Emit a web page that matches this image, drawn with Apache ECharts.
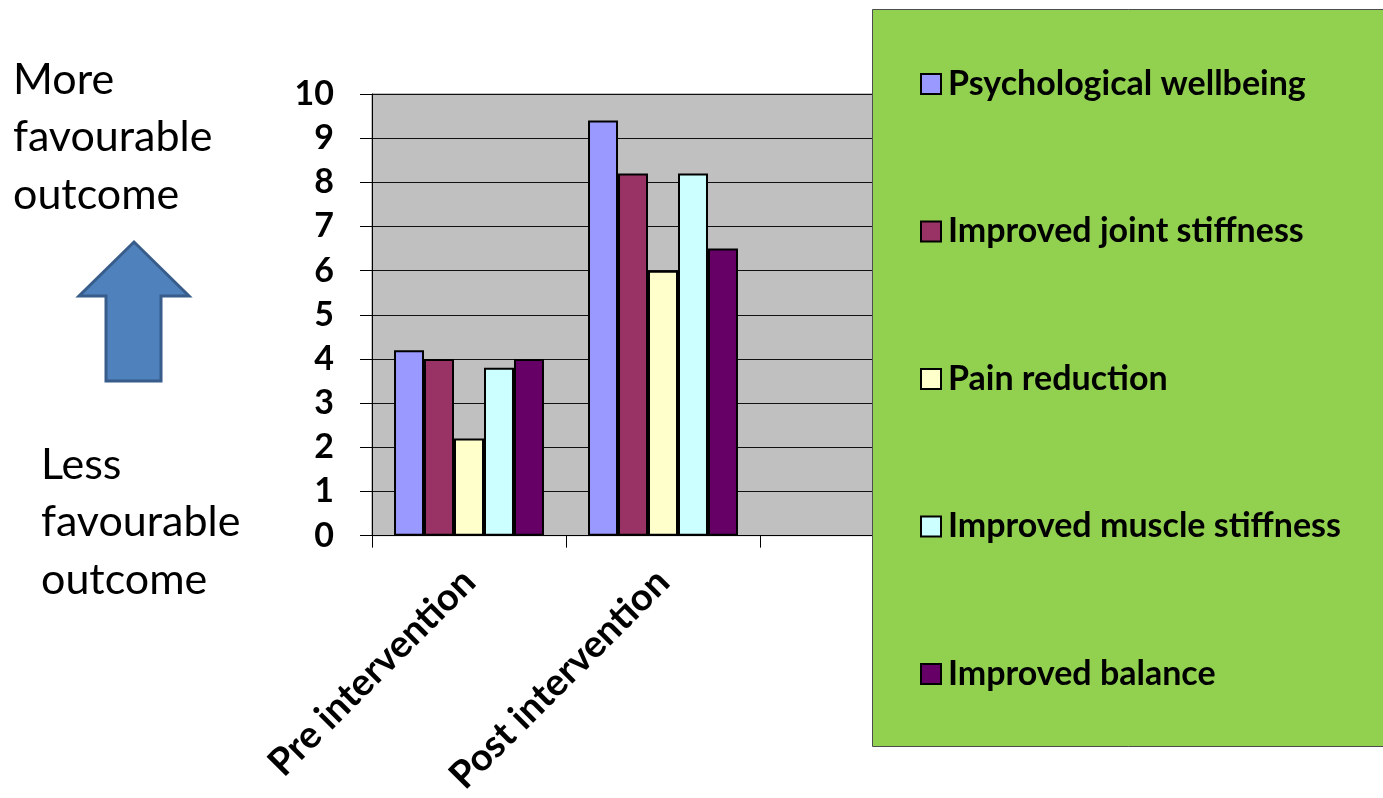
<!DOCTYPE html>
<html>
<head>
<meta charset="utf-8">
<script src="https://cdn.jsdelivr.net/npm/echarts@6/dist/echarts.min.js"></script>
<style>
  html, body { margin: 0; padding: 0; background: #ffffff; }
  #chart { width: 1383px; height: 798px; }
</style>
</head>
<body>
<div id="chart"></div>
<script>
// Outcome scores before and after the intervention
const categories = ['Pre intervention', 'Post intervention', ''];
const seriesNames = [
  'Psychological wellbeing',
  'Improved joint stiffness',
  'Pain reduction',
  'Improved muscle stiffness',
  'Improved balance'
];
const psychologicalWellbeing = [4.2, 9.4, null];
const jointStiffness = [4.0, 8.2, null];
const painReduction = [2.2, 6.0, null];
const muscleStiffness = [3.8, 8.2, null];
const balance = [4.0, 6.5, null];
const yTicks = [0, 1, 2, 3, 4, 5, 6, 7, 8, 9, 10];

const seriesValues = [psychologicalWellbeing, jointStiffness, painReduction, muscleStiffness, balance];
const seriesColors = ['#9999FF', '#993366', '#FFFFCC', '#CCFFFF', '#660066'];

const FONT = 'Lato, "Open Sans", sans-serif';

const chart = echarts.init(document.getElementById('chart'), null, { renderer: 'canvas' });

const option = {
  animation: false,
  backgroundColor: '#ffffff',
  grid: {
    left: 372, top: 94, right: 429, bottom: 261,
    show: true,
    backgroundColor: '#C0C0C0',
    borderColor: '#808080',
    borderWidth: 1
  },
  xAxis: {
    type: 'category',
    data: categories,
    axisLine: { lineStyle: { color: '#000', width: 1 } },
    axisTick: { show: true, interval: 0, length: 12, lineStyle: { color: '#000' } },
    axisLabel: {
      interval: 0, rotate: 45, margin: 40,
      fontFamily: FONT, fontWeight: 'bold', fontSize: 38, color: '#000'
    },
    splitLine: { show: false }
  },
  yAxis: {
    type: 'value',
    min: yTicks[0], max: yTicks[yTicks.length - 1], interval: 1,
    axisLine: { show: true, lineStyle: { color: '#000', width: 1 } },
    axisTick: { show: true, length: 12, lineStyle: { color: '#000' } },
    axisLabel: {
      margin: 38, fontFamily: FONT, fontWeight: 'bold', fontSize: 34, color: '#000'
    },
    splitLine: { show: true, lineStyle: { color: '#111', width: 1.2 } }
  },
  legend: {
    orient: 'vertical',
    left: 915, top: 59,
    z: 6,
    itemWidth: 20, itemHeight: 20,
    itemGap: 107.5,
    icon: 'rect',
    textStyle: {
      fontFamily: FONT, fontWeight: 'bold', fontSize: 34, color: '#000',
      lineHeight: 40, padding: [0, 0, 0, 2]
    },
    data: seriesNames
  },
  graphic: [
    // Legend panel
    {
      type: 'rect', z: 5,
      shape: { x: 872.5, y: 9.5, width: 530, height: 737 },
      style: { fill: '#92D050', stroke: '#4d4d4d', lineWidth: 1 }
    },
    // Direction arrow
    {
      type: 'polygon', z: 5,
      shape: { points: [[134, 242], [189, 296], [161, 296], [161, 381], [106, 381], [106, 296], [79, 296]] },
      style: { fill: '#4F81BD', stroke: '#385D8A', lineWidth: 3 }
    },
    {
      type: 'text', z: 5, left: 13, top: 51,
      style: {
        text: 'More\nfavourable\noutcome',
        font: '43px ' + FONT, fill: '#000', lineHeight: 57.5
      }
    },
    {
      type: 'text', z: 5, left: 41, top: 436,
      style: {
        text: 'Less\nfavourable\noutcome',
        font: '43px ' + FONT, fill: '#000', lineHeight: 57.5
      }
    }
  ],
  series: seriesNames.map((name, i) => ({
    name: name,
    type: 'bar',
    data: seriesValues[i],
    barGap: '0%',
    barCategoryGap: '22.7%',
    itemStyle: { color: seriesColors[i], borderColor: '#000', borderWidth: 2 }
  }))
};

chart.setOption(option);
</script>
</body>
</html>
